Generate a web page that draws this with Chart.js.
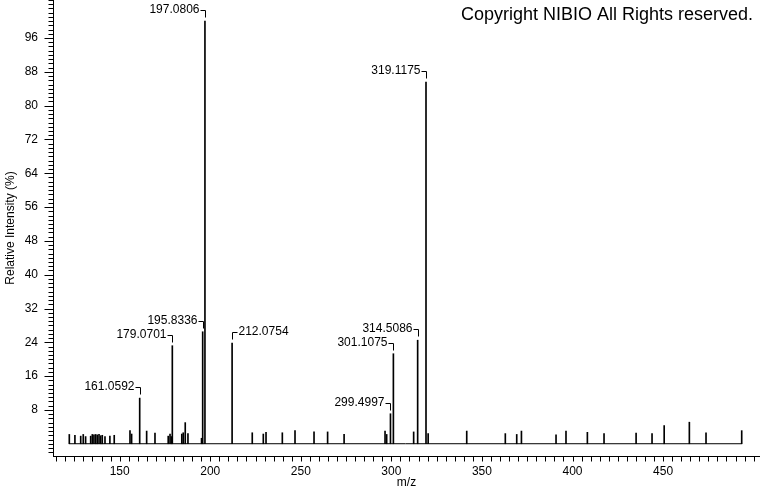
<!DOCTYPE html>
<html><head><meta charset="utf-8">
<script src="https://cdn.jsdelivr.net/npm/chart.js@4/dist/chart.umd.min.js"></script>
<style>html,body{margin:0;padding:0;background:#fff}#wrap{width:760px;height:492px}</style>
</head><body><div id="wrap"><canvas id="c" width="760" height="492"></canvas></div>
<script>
// m/z of every peak
const peakMz = [122.2,125.3,128.5,129.9,131.2,134.0,134.9,135.8,136.7,137.6,138.6,139.5,140.4,141.9,144.6,147.0,
  155.7,156.6,161.0592,164.9,169.5,176.8,177.8,178.5,179.0701,184.3,185.1,186.2,187.7,195.2,195.8336,197.0806,
  212.0754,223.2,229.3,230.8,239.8,246.8,257.3,264.8,273.9,296.5,297.4,299.4997,301.1075,312.3,314.5086,319.1175,320.3,
  341.6,362.9,369.2,371.8,390.9,396.4,408.2,417.4,435.1,443.9,450.6,464.5,473.7,493.4];
// relative intensity (%) of every peak
const peakIntensity = [2.2,2.0,1.8,2.2,1.7,1.8,2.2,2.1,2.2,2.1,2.2,1.9,2.0,1.7,1.8,2.0,
  3.1,2.3,10.8,3.0,2.5,1.8,2.3,1.7,23.2,2.3,2.6,5.0,2.4,1.3,26.5,100,
  23.8,2.6,2.3,2.7,2.6,3.1,2.8,2.8,2.2,3.0,2.2,7.1,21.3,2.8,24.5,85.6,2.4,
  3.0,2.4,2.2,3.0,2.1,3.0,2.7,2.4,2.5,2.4,4.3,5.1,2.6,3.1];
// annotated peaks
const labelTexts = ['161.0592','179.0701','195.8336','197.0806','212.0754','299.4997','301.1075','314.5086','319.1175'];
const labelSides = ['left','left','left','left','right','left','left','left','left'];
const yTickValues = [8,16,24,32,40,48,56,64,72,80,88,96];
const xTickValues = [150,200,250,300,350,400,450];
const xMinorStep = 5;
const yMinorStep = 1;

const FONT = '"Liberation Sans", Arial, sans-serif';

const peaks = peakMz.map((m, i) => ({x: m, y: peakIntensity[i]}));
const baseline = [{x: Math.min(...peakMz), y: 0}, {x: Math.max(...peakMz), y: 0}];

const tickPlugin = {
  id: 'ticks',
  afterDraw(chart) {
    const ctx = chart.ctx, xs = chart.scales.x, ys = chart.scales.y;
    ctx.save();
    ctx.strokeStyle = '#000'; ctx.lineWidth = 1;
    ctx.beginPath();
    const ax = Math.round(xs.left) + 0.5;
    for (let v = Math.ceil(ys.min); v <= ys.max; v += yMinorStep) {
      const py = Math.round(ys.getPixelForValue(v)) + 0.5;
      const len = (v % 8 === 0 && v > 0 && v < 100) ? 9 : 5;
      ctx.moveTo(ax, py); ctx.lineTo(ax - len, py);
    }
    const ay = Math.round(ys.bottom) + 0.5;
    for (let v = Math.ceil(xs.min / xMinorStep) * xMinorStep; v <= xs.max; v += xMinorStep) {
      const px = Math.round(xs.getPixelForValue(v)) + 0.5;
      ctx.moveTo(px, ay); ctx.lineTo(px, ay + 5);
    }
    ctx.stroke();
    ctx.restore();
  }
};

const labelPlugin = {
  id: 'peakLabels',
  afterDatasetsDraw(chart) {
    const ctx = chart.ctx, xs = chart.scales.x, ys = chart.scales.y;
    ctx.save();
    ctx.font = '12px ' + FONT;
    ctx.fillStyle = '#000'; ctx.strokeStyle = '#000'; ctx.lineWidth = 1;
    ctx.textBaseline = 'middle';
    labelTexts.forEach((t, i) => {
      const m = parseFloat(t);
      const idx = peakMz.indexOf(m);
      const px = Math.round(xs.getPixelForValue(m)) + 0.5;
      const py = ys.getPixelForValue(peakIntensity[idx]);
      const ly = Math.round(py - 11) + 0.5;
      ctx.beginPath();
      if (labelSides[i] === 'left') {
        ctx.moveTo(px - 5, ly); ctx.lineTo(px, ly); ctx.lineTo(px, ly + 7);
        ctx.stroke();
        ctx.textAlign = 'right';
        ctx.fillText(t, px - 6, ly - 1);
      } else {
        ctx.moveTo(px + 5, ly); ctx.lineTo(px, ly); ctx.lineTo(px, ly + 7);
        ctx.stroke();
        ctx.textAlign = 'left';
        ctx.fillText(t, px + 6, ly - 1);
      }
    });
    ctx.restore();
  }
};

const copyrightPlugin = {
  id: 'copyright',
  afterDraw(chart) {
    const ctx = chart.ctx;
    ctx.save();
    ctx.font = '18px ' + FONT;
    ctx.fillStyle = '#000';
    ctx.textAlign = 'right'; ctx.textBaseline = 'middle';
    ctx.fillText('Copyright NIBIO All Rights reserved.', 753, 15);
    ctx.restore();
  }
};

new Chart(document.getElementById('c'), {
  type: 'bar',
  data: {
    datasets: [
      {type: 'line', data: baseline, borderColor: '#000', borderWidth: 1, pointRadius: 0, fill: false},
      {type: 'bar', data: peaks, backgroundColor: '#000', borderWidth: 0, barThickness: 1, grouped: false}
    ]
  },
  options: {
    animation: false, responsive: false, devicePixelRatio: 1,
    layout: {padding: 0},
    plugins: {legend: {display: false}, tooltip: {enabled: false}, title: {display: false}},
    scales: {
      x: {
        type: 'linear', min: 113.2, max: 503.5, offset: false,
        grid: {display: false, drawTicks: false},
        border: {display: true, color: '#000', width: 1},
        afterBuildTicks: s => { s.ticks = xTickValues.map(v => ({value: v})); },
        afterFit: s => { s.height = 36; s.paddingLeft = 0; s.paddingRight = 0; s.paddingTop = 0; s.paddingBottom = 0; },
        ticks: {color: '#000', font: {family: FONT, size: 12}, padding: 8, maxRotation: 0, autoSkip: false},
        title: {display: true, text: 'm/z', color: '#000', font: {family: FONT, size: 12}, padding: {top: 0, bottom: 2}}
      },
      y: {
        type: 'linear', min: -2.9, max: 105,
        grid: {display: false, drawTicks: false},
        border: {display: true, color: '#000', width: 1},
        afterBuildTicks: s => { s.ticks = yTickValues.map(v => ({value: v})); },
        afterFit: s => { s.width = 53; s.paddingTop = 0; s.paddingBottom = 0; s.paddingLeft = 0; s.paddingRight = 0; },
        ticks: {color: '#000', font: {family: FONT, size: 12}, padding: 15, autoSkip: false},
        title: {display: true, text: 'Relative Intensity (%)', color: '#000', font: {family: FONT, size: 12}, padding: {top: 3, bottom: 0}}
      }
    }
  },
  plugins: [tickPlugin, labelPlugin, copyrightPlugin]
});
</script>
</body></html>
